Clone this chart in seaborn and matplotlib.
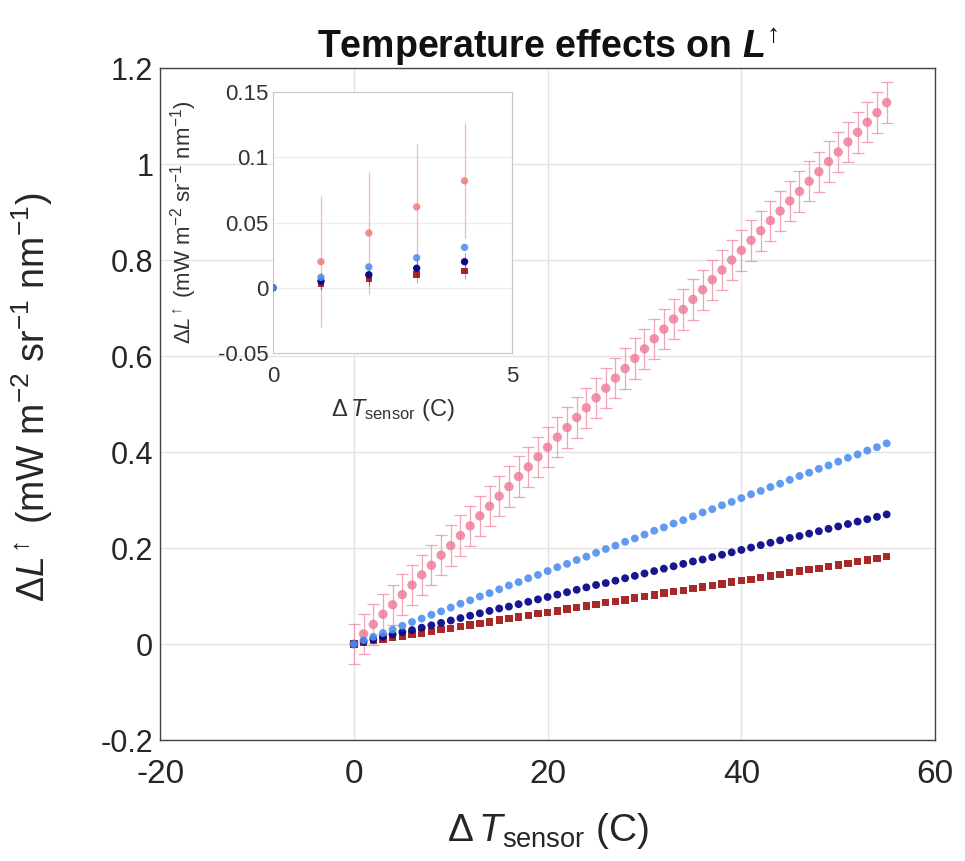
import matplotlib
matplotlib.use("Agg")
import matplotlib.pyplot as plt
import seaborn as sns
from matplotlib.ticker import FuncFormatter

# ---------------- data ----------------
dT = list(range(0, 56))
pink = [0, 0.021, 0.041, 0.062, 0.082, 0.103, 0.123, 0.144, 0.164, 0.185, 0.205, 0.226, 0.246, 0.267,
        0.287, 0.308, 0.328, 0.349, 0.369, 0.390, 0.410, 0.431, 0.451, 0.472, 0.492, 0.513, 0.533, 0.554,
        0.574, 0.595, 0.615, 0.636, 0.656, 0.677, 0.697, 0.718, 0.738, 0.759, 0.779, 0.800, 0.820, 0.841,
        0.861, 0.882, 0.902, 0.923, 0.943, 0.964, 0.984, 1.005, 1.025, 1.046, 1.066, 1.087, 1.107, 1.128]
blue = [0, 0.008, 0.015, 0.023, 0.030, 0.038, 0.046, 0.053, 0.061, 0.068, 0.076, 0.084, 0.091, 0.099,
        0.106, 0.114, 0.122, 0.129, 0.137, 0.144, 0.152, 0.160, 0.167, 0.175, 0.182, 0.190, 0.198, 0.205,
        0.213, 0.220, 0.228, 0.236, 0.243, 0.251, 0.258, 0.266, 0.274, 0.281, 0.289, 0.296, 0.304, 0.312,
        0.319, 0.327, 0.334, 0.342, 0.350, 0.357, 0.365, 0.372, 0.380, 0.388, 0.395, 0.403, 0.410, 0.418]
navy = [0, 0.005, 0.010, 0.015, 0.020, 0.025, 0.029, 0.034, 0.039, 0.044, 0.049, 0.054, 0.059, 0.064,
        0.069, 0.074, 0.078, 0.083, 0.088, 0.093, 0.098, 0.103, 0.108, 0.113, 0.118, 0.123, 0.127, 0.132,
        0.137, 0.142, 0.147, 0.152, 0.157, 0.162, 0.167, 0.172, 0.176, 0.181, 0.186, 0.191, 0.196, 0.201,
        0.206, 0.211, 0.216, 0.221, 0.225, 0.230, 0.235, 0.240, 0.245, 0.250, 0.255, 0.260, 0.265, 0.270]
dred = [0, 0.003, 0.007, 0.010, 0.013, 0.017, 0.020, 0.023, 0.026, 0.030, 0.033, 0.036, 0.040, 0.043,
        0.046, 0.050, 0.053, 0.056, 0.059, 0.063, 0.066, 0.069, 0.073, 0.076, 0.079, 0.083, 0.086, 0.089,
        0.092, 0.096, 0.099, 0.102, 0.106, 0.109, 0.112, 0.116, 0.119, 0.122, 0.125, 0.129, 0.132, 0.135,
        0.139, 0.142, 0.145, 0.149, 0.152, 0.155, 0.158, 0.162, 0.165, 0.168, 0.172, 0.175, 0.178, 0.182]
pink_err = 0.042

# inset data
dT_in = [0, 1, 2, 3, 4]
pink_in = [0, 0.020, 0.042, 0.062, 0.082]
pink_in_err = [0, 0.050, 0.047, 0.048, 0.044]
blue_in = [0, 0.008, 0.016, 0.023, 0.031]
navy_in = [0, 0.005, 0.010, 0.015, 0.020]
navy_in_err = [0, 0.006, 0.006, 0.007, 0.007]
dred_in = [0, 0.003, 0.007, 0.010, 0.013]
dred_in_err = [0, 0.005, 0.006, 0.006, 0.006]

main_xticks = [-20, 0, 20, 40, 60]
main_yticks = [-0.2, 0, 0.2, 0.4, 0.6, 0.8, 1.0, 1.2]
inset_xticks = [0, 5]
inset_yticks = [-0.05, 0, 0.05, 0.1, 0.15]

c_pink = "#ef7f9b"
c_pink_in = "#ee7b78"
c_blue = "#4f8ff0"
c_navy = "#0a0a8a"
c_red = "#a01010"

# ---------------- style ----------------
sns.set_theme(style="white")
plt.rcParams["font.family"] = ["Liberation Sans", "DejaVu Sans"]
plt.rcParams["mathtext.fontset"] = "custom"
plt.rcParams["mathtext.rm"] = "Liberation Sans"
plt.rcParams["mathtext.it"] = "Liberation Sans:italic"
plt.rcParams["mathtext.bf"] = "Liberation Sans:bold"
plt.rcParams["mathtext.bfit"] = "Liberation Sans:bold:italic"
plt.rcParams["axes.unicode_minus"] = False

fmt = FuncFormatter(lambda v, p: ("%g" % round(v, 4)))
txt = "#262626"
ylab = r"$\Delta L^{\!\uparrow}$ (mW m$^{-2}$ sr$^{-1}$ nm$^{-1}$)"
xlab = r"$\Delta\,T_{\mathrm{sensor}}$ (C)"

fig = plt.figure(figsize=(9.65, 8.61), dpi=100)
ax = fig.add_axes([0.166, 0.1405, 0.803, 0.7805])

# main plot
ax.errorbar(dT, pink, yerr=pink_err, fmt="none", ecolor=c_pink, elinewidth=0.9,
            capsize=4, capthick=0.9, alpha=0.7, zorder=2)
sns.scatterplot(x=dT, y=pink, ax=ax, color=c_pink, marker="o", s=46, edgecolor="none", alpha=0.85, zorder=3)
sns.scatterplot(x=dT, y=dred, ax=ax, color=c_red, marker="s", s=28, edgecolor="none", alpha=0.9, zorder=4)
sns.scatterplot(x=dT, y=navy, ax=ax, color=c_navy, marker="o", s=32, edgecolor="none", alpha=0.95, zorder=5)
sns.scatterplot(x=dT, y=blue, ax=ax, color=c_blue, marker="o", s=32, edgecolor="none", alpha=0.9, zorder=6)

ax.set_xlim(-20, 60)
ax.set_ylim(-0.2, 1.2)
ax.set_xticks(main_xticks)
ax.set_yticks(main_yticks)
ax.xaxis.set_major_formatter(fmt)
ax.yaxis.set_major_formatter(fmt)
ax.tick_params(axis="both", direction="in", length=6, color="#555555", colors=txt)
ax.tick_params(axis="x", labelsize=24, pad=14)
ax.tick_params(axis="y", labelsize=22, pad=5)
ax.grid(True, color="#e3e3e3", linewidth=1.0)
for s in ax.spines.values():
    s.set_color("#444444")
    s.set_linewidth(1.0)
ax.set_xlabel(xlab, fontsize=28, color=txt)
ax.xaxis.set_label_coords(0.5, -0.105, transform=ax.transAxes)
ax.set_ylabel(ylab, fontsize=27, color=txt)
ax.yaxis.set_label_coords(-0.136, 0.51, transform=ax.transAxes)
ax.set_title(r"Temperature effects on $\boldsymbol{L}^{\!\uparrow}$", fontsize=27, fontweight="bold",
             color="#111111", pad=7)

# inset
axi = fig.add_axes([0.283, 0.590, 0.248, 0.303])
axi.set_facecolor("white")
axi.errorbar(dT_in, pink_in, yerr=pink_in_err, fmt="none", ecolor=c_pink, elinewidth=0.9, alpha=0.6, zorder=2)
axi.errorbar(dT_in, navy_in, yerr=navy_in_err, fmt="none", ecolor=c_navy, elinewidth=0.8, alpha=0.4, zorder=2)
axi.errorbar(dT_in, dred_in, yerr=dred_in_err, fmt="none", ecolor=c_red, elinewidth=0.8, alpha=0.4, zorder=2)
sns.scatterplot(x=dT_in, y=pink_in, ax=axi, color=c_pink_in, marker="o", s=28, edgecolor="none", alpha=0.85, zorder=3)
sns.scatterplot(x=dT_in, y=dred_in, ax=axi, color=c_red, marker="s", s=22, edgecolor="none", alpha=0.9, zorder=4)
sns.scatterplot(x=dT_in, y=navy_in, ax=axi, color=c_navy, marker="o", s=28, edgecolor="none", zorder=5)
sns.scatterplot(x=dT_in, y=blue_in, ax=axi, color=c_blue, marker="o", s=28, edgecolor="none", alpha=0.9, zorder=6)
axi.set_xlim(0, 5)
axi.set_ylim(-0.05, 0.15)
axi.set_xticks(inset_xticks)
axi.set_yticks(inset_yticks)
axi.xaxis.set_major_formatter(fmt)
axi.yaxis.set_major_formatter(fmt)
axi.tick_params(axis="both", labelsize=16, direction="in", length=3, colors="#333333")
axi.tick_params(axis="x", pad=9)
axi.grid(True, color="#ececec", linewidth=0.8)
for s in axi.spines.values():
    s.set_color("#c8c8c8")
    s.set_linewidth(0.8)
axi.set_xlabel(xlab, fontsize=17, color="#333333")
axi.xaxis.set_label_coords(0.5, -0.17, transform=axi.transAxes)
axi.set_ylabel(ylab, fontsize=16, color="#333333")
axi.yaxis.set_label_coords(-0.31, 0.5, transform=axi.transAxes)

fig.savefig("out.png", dpi=100)
